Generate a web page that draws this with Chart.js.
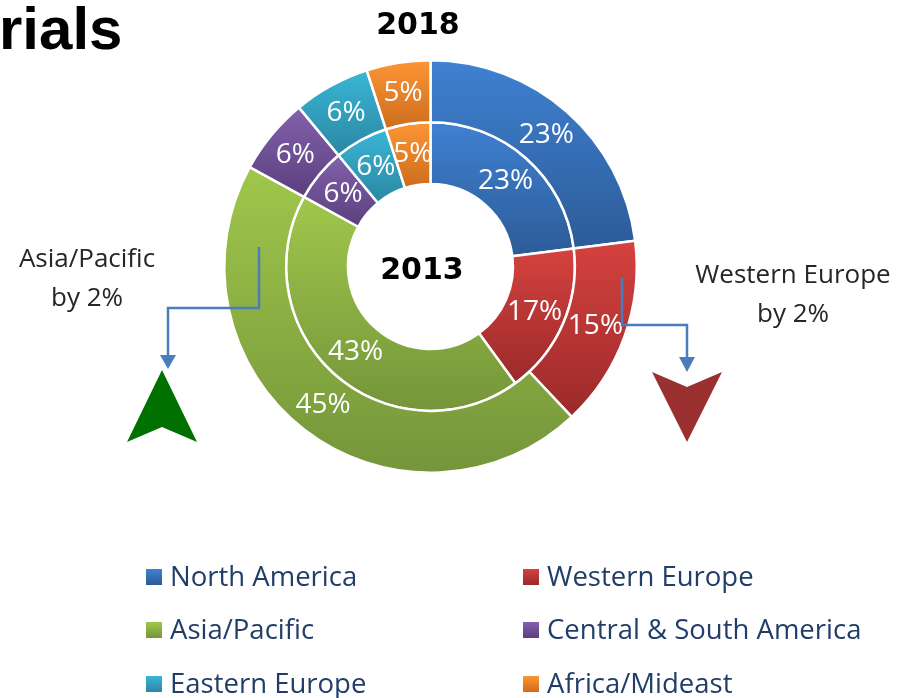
<!DOCTYPE html>
<html>
<head>
<meta charset="utf-8">
<script src="https://cdn.jsdelivr.net/npm/chart.js@4.4.0/dist/chart.umd.min.js"></script>
<style>
  body { margin: 0; background: #fff; }
  #page { position: relative; width: 903px; height: 698px; overflow: hidden; font-family: "Open Sans", sans-serif; }
  #chart { position: absolute; left: 0; top: 0; }
  .txt { position: absolute; white-space: nowrap; }
  .title { font-family: "Liberation Sans", Arial, sans-serif; font-weight: bold; font-size: 60px; color: #000; }
  .year { font-family: "DejaVu Sans", sans-serif; font-weight: bold; font-size: 30px; color: #000; transform: translateX(-50%); line-height: 30px; }
  .note { font-size: 26px; color: #262626; text-align: center; line-height: 39px; transform: translateX(-50%); }
  .leg { font-size: 27.5px; color: #213e69; line-height: 30px; }
  .box { position: absolute; width: 16px; height: 16px; }
</style>
</head>
<body>
<div id="page">
  <canvas id="chart" width="903" height="698"></canvas>
  <div class="txt title" style="left:-1px; top:-6px;">rials</div>
  <div class="txt year" style="left:418px; top:9px;">2018</div>
  <div class="txt year" style="left:422px; top:254px;">2013</div>
  <div class="txt note" style="left:87px; top:238px;">Asia/Pacific<br>by 2%</div>
  <div class="txt note" style="left:793px; top:254px;">Western Europe<br>by 2%</div>
  <div id="legend"></div>
</div>
<script>
// regions, in drawing order (clockwise from 12 o'clock)
const regions = ['North America', 'Western Europe', 'Asia/Pacific', 'Central & South America', 'Eastern Europe', 'Africa/Mideast'];
// share of total, percent
const share2018 = [23, 15, 45, 6, 6, 5];   // outer ring
const share2013 = [23, 17, 43, 6, 6, 5];   // inner ring

const topColors = ['#3f81d1', '#d5423f', '#a0c74b', '#8262ac', '#3ab6d7', '#fc9535'];
const bottomColors = ['#2c5b98', '#9b2a2a', '#75953a', '#5b3f7e', '#2a87a2', '#cd6d1d'];

// legend (two columns, three rows)
const legendSpots = [[146, 577], [523, 577], [146, 630], [523, 630], [146, 684], [523, 684]];
const legendEl = document.getElementById('legend');
regions.forEach((name, i) => {
  const [x, y] = legendSpots[i];
  const b = document.createElement('div');
  b.className = 'box';
  b.style.left = x + 'px';
  b.style.top = (y - 8) + 'px';
  b.style.background = 'linear-gradient(' + topColors[i] + ',' + bottomColors[i] + ')';
  legendEl.appendChild(b);
  const t = document.createElement('div');
  t.className = 'txt leg';
  t.style.left = (x + 24) + 'px';
  t.style.top = (y - 16) + 'px';
  t.textContent = name;
  legendEl.appendChild(t);
});

// vertical gradient per slice, fitted to the slice's own height
const sliceGradient = {
  id: 'sliceGradient',
  beforeDatasetsDraw(chart) {
    const ctx = chart.ctx;
    chart.data.datasets.forEach((ds, di) => {
      chart.getDatasetMeta(di).data.forEach((arc, i) => {
        const p = arc.getProps(['x', 'y', 'startAngle', 'endAngle', 'innerRadius', 'outerRadius']);
        const ys = [];
        [p.startAngle, p.endAngle].forEach(a => {
          ys.push(p.y + p.innerRadius * Math.sin(a), p.y + p.outerRadius * Math.sin(a));
        });
        [-Math.PI / 2, Math.PI / 2, 3 * Math.PI / 2].forEach(k => {
          if (k > p.startAngle && k < p.endAngle) ys.push(p.y + p.outerRadius * Math.sin(k));
        });
        const g = ctx.createLinearGradient(0, Math.min(...ys), 0, Math.max(...ys));
        g.addColorStop(0, topColors[i]);
        g.addColorStop(1, bottomColors[i]);
        arc.options = Object.assign({}, arc.options, { backgroundColor: g });
      });
    });
  }
};

// white percent labels in the middle of each slice
const sliceLabels = {
  id: 'sliceLabels',
  afterDatasetsDraw(chart) {
    const ctx = chart.ctx;
    ctx.save();
    ctx.fillStyle = '#fff';
    ctx.font = '28px "Open Sans"';
    ctx.textAlign = 'center';
    ctx.textBaseline = 'middle';
    chart.data.datasets.forEach((ds, di) => {
      chart.getDatasetMeta(di).data.forEach((arc, i) => {
        const pos = arc.tooltipPosition();
        ctx.fillText(ds.data[i] + '%', pos.x, pos.y);
      });
    });
    ctx.restore();
  }
};

// callout connectors and the up / down arrow shapes
const callouts = {
  id: 'callouts',
  afterDraw(chart) {
    const ctx = chart.ctx;
    ctx.save();
    ctx.strokeStyle = '#4a7ebb';
    ctx.fillStyle = '#4a7ebb';
    ctx.lineWidth = 2.5;
    ctx.beginPath();
    ctx.moveTo(259, 247); ctx.lineTo(259, 308); ctx.lineTo(168, 308); ctx.lineTo(168, 357);
    ctx.stroke();
    ctx.beginPath();
    ctx.moveTo(160, 355); ctx.lineTo(176, 355); ctx.lineTo(168, 369); ctx.closePath();
    ctx.fill();
    ctx.beginPath();
    ctx.moveTo(622, 278); ctx.lineTo(622, 325); ctx.lineTo(687, 325); ctx.lineTo(687, 359);
    ctx.stroke();
    ctx.beginPath();
    ctx.moveTo(679, 357); ctx.lineTo(695, 357); ctx.lineTo(687, 372); ctx.closePath();
    ctx.fill();

    ctx.fillStyle = '#007000';
    ctx.beginPath();
    ctx.moveTo(162, 370); ctx.lineTo(197, 442); ctx.lineTo(162, 427); ctx.lineTo(127, 442); ctx.closePath();
    ctx.fill();

    ctx.fillStyle = '#9b3030';
    ctx.beginPath();
    ctx.moveTo(652, 372); ctx.lineTo(687, 387); ctx.lineTo(722, 372); ctx.lineTo(687, 442); ctx.closePath();
    ctx.fill();
    ctx.restore();
  }
};

new Chart(document.getElementById('chart'), {
  type: 'doughnut',
  data: {
    labels: regions,
    datasets: [
      { label: '2018', data: share2018, backgroundColor: topColors, borderColor: '#fff', borderWidth: 2.5 },
      { label: '2013', data: share2013, backgroundColor: topColors, borderColor: '#fff', borderWidth: 2.5 }
    ]
  },
  options: {
    responsive: false,
    animation: false,
    cutout: '40%',
    layout: { padding: { left: 223, top: 59, right: 265, bottom: 224 } },
    plugins: {
      legend: { display: false },
      tooltip: { enabled: false }
    }
  },
  plugins: [sliceGradient, sliceLabels, callouts]
});
</script>
</body>
</html>
